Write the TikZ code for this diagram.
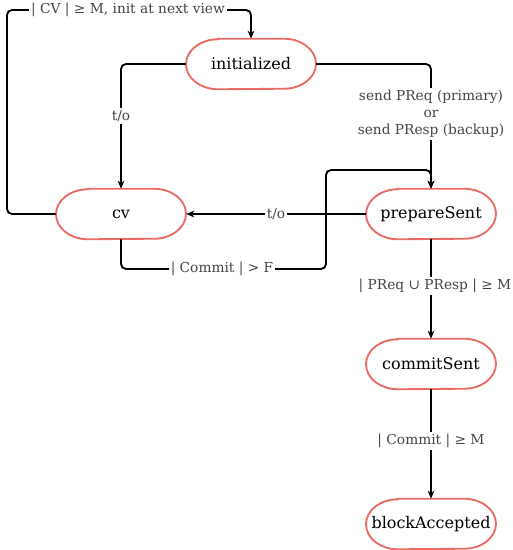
\documentclass[tikz,border=0pt]{standalone}
\usepackage{fontspec}
\setmainfont{DejaVu Serif}
\usetikzlibrary{arrows.meta}
\definecolor{stroke}{HTML}{EA6B66}
\definecolor{labelgray}{HTML}{444444}
\newcommand\stadium[1]{\draw[border] ([xshift=-24.75pt]#1.north) -- ([xshift=24.75pt]#1.north) arc[start angle=90,end angle=-90,x radius=24pt,y radius=18.75pt] -- ([xshift=-24.75pt]#1.south) arc[start angle=270,end angle=90,x radius=24pt,y radius=18.75pt] -- cycle;}
\begin{document}
\begin{tikzpicture}[x=0.75pt,y=-0.75pt,
  state/.style={minimum width=97.5pt, minimum height=37.5pt, inner sep=0pt, font=\fontsize{12}{14}\selectfont},
  border/.style={draw=stroke, line width=1.4pt},
  edge/.style={line width=1.4pt, rounded corners=3.75pt, -{Stealth[length=6pt,width=5pt,inset=1.8pt]}},
  lbl/.style={fill=white, text=labelgray, font=\fontsize{10.3}{12.75}\selectfont, inner sep=1.5pt, align=center}]
\useasboundingbox (0,0) rectangle (512,550);
\node[state] (init) at (251,64) {initialized};
\node[state] (cv) at (121,214) {cv};
\node[state] (ps) at (431,214) {prepareSent};
\node[state] (cs) at (431,364) {commitSent};
\node[state] (ba) at (431,524) {blockAccepted};
\stadium{init}\stadium{cv}\stadium{ps}\stadium{cs}\stadium{ba}
\draw[edge] (cv.west) -| (7,10) -| (init.north);
\draw[edge] (init.west) -| (cv.north);
\draw[edge] (init.east) -| (ps.north);
\draw[edge] (ps.west) -- (cv.east);
\draw[edge] (cv.south) |- (326,269) |- (431,170) -- (ps.north);
\draw[edge] (ps.south) -- (cs.north);
\draw[edge] (cs.south) -- (ba.north);
\node[lbl] (l1) at (128,10) {| CV | ≥ M, init at next view};
\node[lbl] (l2) at (121,116) {t/o};
\node[lbl] (l3) at (431,114) {send PReq (primary)\\or\\send PResp (backup)};
\node[lbl] (l4) at (276,214) {t/o};
\node[lbl] (l5) at (222,269) {| Commit | > F};
\node[lbl] (l6) at (435,286) {| PReq ∪ PResp | ≥ M};
\node[lbl] (l7) at (431,441) {| Commit | ≥ M};
\end{tikzpicture}
\end{document}
